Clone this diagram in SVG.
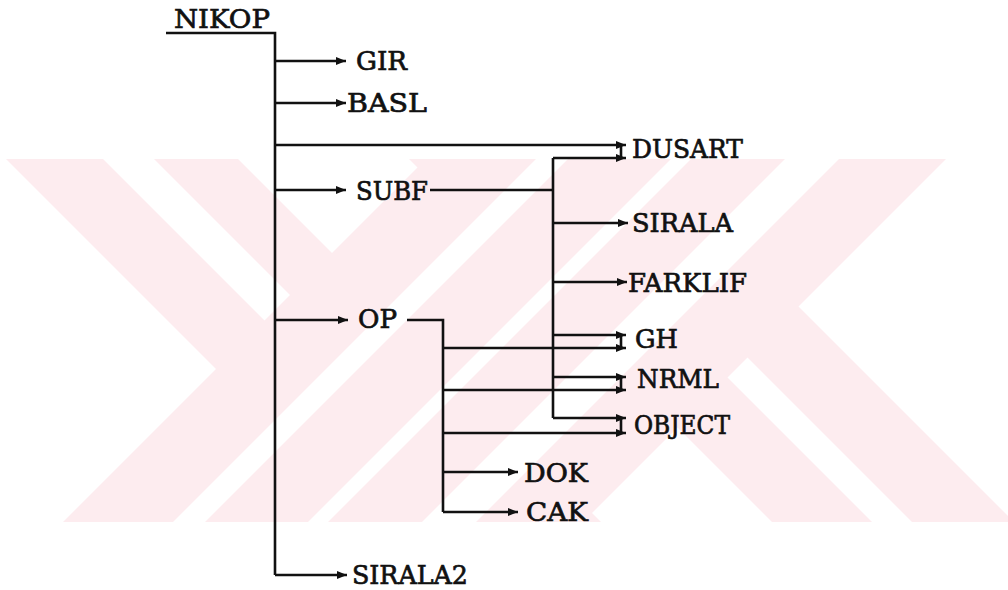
<svg xmlns="http://www.w3.org/2000/svg" width="1008" height="590" viewBox="0 0 1008 590">
  <defs>
    <clipPath id="band"><rect x="0" y="159" width="1008" height="363"/></clipPath>
    <marker id="ah" markerUnits="userSpaceOnUse" markerWidth="11" markerHeight="9" refX="10" refY="4.5" orient="auto">
      <path d="M0,0.5 L10,4.5 L0,8.5 z" fill="#111"/>
    </marker>
    <style>
      .wm { fill: #fdecef; }
      .wg { fill: #ffffff; }
      .ln { stroke: #111; stroke-width: 2.6; fill: none; }
      .ar { stroke: #111; stroke-width: 2.6; fill: none; marker-end: url(#ah); }
      .bar { stroke: #111; stroke-width: 2.6; }
      text { font-family: "DejaVu Serif", "Liberation Serif", serif; font-size: 26px; fill: #111; stroke: #111; stroke-width: 0.7px; }
    </style>
  </defs>
  <rect width="1008" height="590" fill="#fff"/>
  <g id="watermark" clip-path="url(#band)">
    <polygon class="wm" points="6,159 103,159 466,522 369,522"/>
    <polygon class="wm" points="154,159 238,159 601,522 517,522"/>
    <polygon class="wm" points="409,159 509,159 872,522 772,522"/>
    <polygon class="wm" points="549,159 651,159 1014,522 912,522"/>
    <polygon class="wm" points="426,159 946,159 583,522 63,522"/>
    <polygon class="wg" points="536,159 568,159 205,522 173,522"/>
    <polygon class="wg" points="671,159 691,159 328,522 308,522"/>
    <polygon class="wg" points="785,159 839,159 476,522 422,522"/>
  </g>
  <g id="connectors">
    <path class="ln" d="M166,33 H275 V575"/>
    <path class="ar" d="M275,61 H346"/>
    <path class="ar" d="M275,103 H346"/>
    <path class="ar" d="M275,145 H626"/>
    <path class="ar" d="M275,190 H346"/>
    <path class="ar" d="M275,320 H348"/>
    <path class="ar" d="M275,575 H347"/>
    <path class="ln" d="M430,190 H553"/>
    <path class="ln" d="M553,158 V418"/>
    <path class="ar" d="M553,158 H626"/>
    <path class="ar" d="M553,223 H628"/>
    <path class="ar" d="M553,282 H627"/>
    <path class="ar" d="M553,335 H626"/>
    <path class="ar" d="M553,377 H626"/>
    <path class="ar" d="M553,418 H626"/>
    <path class="ln" d="M407,320 H443 V512"/>
    <path class="ar" d="M443,348 H626"/>
    <path class="ar" d="M443,390 H626"/>
    <path class="ar" d="M443,433 H626"/>
    <path class="ar" d="M443,472 H518"/>
    <path class="ar" d="M443,512 H518"/>
    <line class="bar" x1="621" y1="145" x2="621" y2="158"/>
    <line class="bar" x1="621" y1="335" x2="621" y2="348"/>
    <line class="bar" x1="621" y1="377" x2="621" y2="390"/>
    <line class="bar" x1="621" y1="418" x2="621" y2="433"/>
  </g>
  <g id="NIKOP"><text x="174" y="28" textLength="96" lengthAdjust="spacingAndGlyphs">NIKOP</text></g>
  <g id="GIR"><text x="356" y="70" textLength="51" lengthAdjust="spacingAndGlyphs">GIR</text></g>
  <g id="BASL"><text x="347" y="112" textLength="80" lengthAdjust="spacingAndGlyphs">BASL</text></g>
  <g id="DUSART"><text x="632" y="158" textLength="111" lengthAdjust="spacingAndGlyphs">DUSART</text></g>
  <g id="SUBF"><text x="356" y="200" textLength="72" lengthAdjust="spacingAndGlyphs">SUBF</text></g>
  <g id="SIRALA"><text x="632" y="232" textLength="101" lengthAdjust="spacingAndGlyphs">SIRALA</text></g>
  <g id="FARKLIF"><text x="628" y="292" textLength="119" lengthAdjust="spacingAndGlyphs">FARKLIF</text></g>
  <g id="OP"><text x="358" y="328" textLength="39" lengthAdjust="spacingAndGlyphs">OP</text></g>
  <g id="GH"><text x="635" y="348" textLength="43" lengthAdjust="spacingAndGlyphs">GH</text></g>
  <g id="NRML"><text x="637" y="388" textLength="82" lengthAdjust="spacingAndGlyphs">NRML</text></g>
  <g id="OBJECT"><text x="634" y="434" textLength="96" lengthAdjust="spacingAndGlyphs">OBJECT</text></g>
  <g id="DOK"><text x="524" y="482" textLength="64" lengthAdjust="spacingAndGlyphs">DOK</text></g>
  <g id="CAK"><text x="526" y="521" textLength="62" lengthAdjust="spacingAndGlyphs">CAK</text></g>
  <g id="SIRALA2"><text x="352" y="584" textLength="116" lengthAdjust="spacingAndGlyphs">SIRALA2</text></g>
</svg>
